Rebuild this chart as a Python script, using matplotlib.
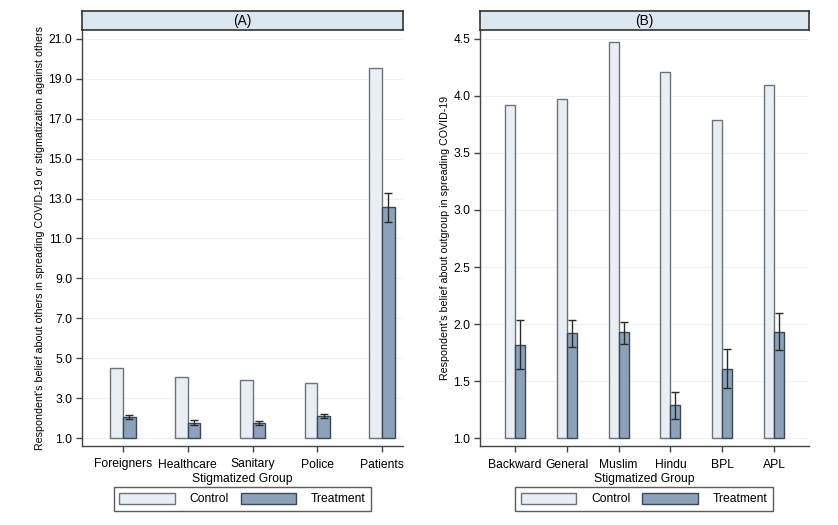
import matplotlib
matplotlib.use("Agg")
import matplotlib.pyplot as plt
import numpy as np
from matplotlib.patches import Patch, Rectangle

plt.rcParams['font.family'] = ['Liberation Sans', 'DejaVu Sans']

# Panel A data
groups_a = ["Foreigners", "Healthcare", "Sanitary", "Police", "Patients"]
control_a = [4.49, 4.07, 3.90, 3.78, 19.57]
treat_a = [2.04, 1.77, 1.73, 2.08, 12.57]
treat_a_lo = [1.93, 1.67, 1.63, 1.98, 11.82]
treat_a_hi = [2.15, 1.88, 1.83, 2.18, 13.28]
yticks_a = [1.0, 3.0, 5.0, 7.0, 9.0, 11.0, 13.0, 15.0, 17.0, 19.0, 21.0]

# Panel B data
groups_b = ["Backward", "General", "Muslim", "Hindu", "BPL", "APL"]
control_b = [3.92, 3.975, 4.47, 4.21, 3.79, 4.09]
treat_b = [1.82, 1.92, 1.93, 1.29, 1.61, 1.935]
treat_b_lo = [1.605, 1.80, 1.83, 1.17, 1.44, 1.775]
treat_b_hi = [2.04, 2.04, 2.02, 1.41, 1.78, 2.095]
yticks_b = [1.0, 1.5, 2.0, 2.5, 3.0, 3.5, 4.0, 4.5]

CTRL_FILL = "#e9eef5"
CTRL_EDGE = "#6e737a"
TRT_FILL = "#8da1b9"
TRT_EDGE = "#3a4858"
STRIP_FILL = "#dce6ee"

W, H = 838, 525
fig = plt.figure(figsize=(W / 100, H / 100), dpi=100)

def fx(px):
    return px / W

def fy(py):
    return 1 - py / H

FS = 8.7

def panel(x0, x1, groups, ctrl, trt, lo, hi, yticks, ylim, xlim, title, ylabel, bw):
    ax = fig.add_axes([fx(x0), fy(446), fx(x1 - x0), (446 - 30) / H])
    x = np.arange(len(groups))
    base = yticks[0]
    ax.bar(x - bw / 2, np.array(ctrl) - base, bw, bottom=base, color=CTRL_FILL,
           edgecolor=CTRL_EDGE, linewidth=1.0, zorder=3)
    ax.bar(x + bw / 2, np.array(trt) - base, bw, bottom=base, color=TRT_FILL,
           edgecolor=TRT_EDGE, linewidth=1.0, zorder=3)
    trt = np.array(trt)
    yerr = np.vstack([trt - np.array(lo), np.array(hi) - trt])
    ax.errorbar(x + bw / 2, trt, yerr=yerr, fmt='none', ecolor="#2a2a2a",
                elinewidth=1.0, capsize=3, capthick=1.0, zorder=4)
    ax.set_xlim(*xlim)
    ax.set_ylim(*ylim)
    ax.set_yticks(yticks)
    ax.set_yticklabels([f"{v:.1f}" for v in yticks], fontsize=FS)
    ax.set_xticks(x)
    ax.set_xticklabels(groups, fontsize=FS)
    ax.tick_params(axis='both', direction='out', length=4, width=1.0, color="#444444", pad=3)
    ax.tick_params(axis='x', pad=5)
    ax.grid(axis='y', color="#eef0f3", linewidth=0.8, zorder=0)
    ax.set_axisbelow(True)
    for s in ['top', 'right']:
        ax.spines[s].set_visible(False)
    for s in ['left', 'bottom']:
        ax.spines[s].set_color("#444444")
        ax.spines[s].set_linewidth(1.0)
    ax.set_xlabel("Stigmatized Group", fontsize=FS, labelpad=2)
    ax.set_ylabel(ylabel, fontsize=7.7, labelpad=2.5)
    # strip title
    sax = fig.add_axes([fx(x0), fy(30), fx(x1 - x0), (30 - 11) / H])
    sax.set_xticks([]); sax.set_yticks([])
    sax.set_facecolor(STRIP_FILL)
    for s in sax.spines.values():
        s.set_color("#333333"); s.set_linewidth(1.2)
    sax.text(0.5, 0.5, title, ha='center', va='center', fontsize=9.8,
             transform=sax.transAxes)
    return ax

axA = panel(82, 403, groups_a, control_a, treat_a, treat_a_lo, treat_a_hi, yticks_a,
            (0.6, 21.45), (-0.634, 4.325), "(A)",
            "Respondent's belief about others in spreading COVID-19 or stigmatization against others",
            0.196)
axB = panel(480, 808.7, groups_b, control_b, treat_b, treat_b_lo, treat_b_hi, yticks_b,
            (0.933, 4.576), (-0.676, 5.67), "(B)",
            "Respondent's belief about outgroup in spreading COVID-19",
            0.193)

handles = [Patch(facecolor=CTRL_FILL, edgecolor=CTRL_EDGE, linewidth=1.0),
           Patch(facecolor=TRT_FILL, edgecolor=TRT_EDGE, linewidth=1.0)]
for cx in (242.5, 644):
    leg = fig.legend(handles, ["Control", "Treatment"], loc='center',
                     bbox_to_anchor=(fx(cx), fy(499)), ncol=2, fontsize=FS,
                     frameon=True, fancybox=False, handlelength=4.6, handleheight=1.1,
                     handletextpad=1.2, columnspacing=1.0, borderpad=0.45,
                     borderaxespad=0)
    fr = leg.get_frame()
    fr.set_edgecolor("#333333"); fr.set_linewidth(1.0)

fig.savefig("out.png", dpi=100)
